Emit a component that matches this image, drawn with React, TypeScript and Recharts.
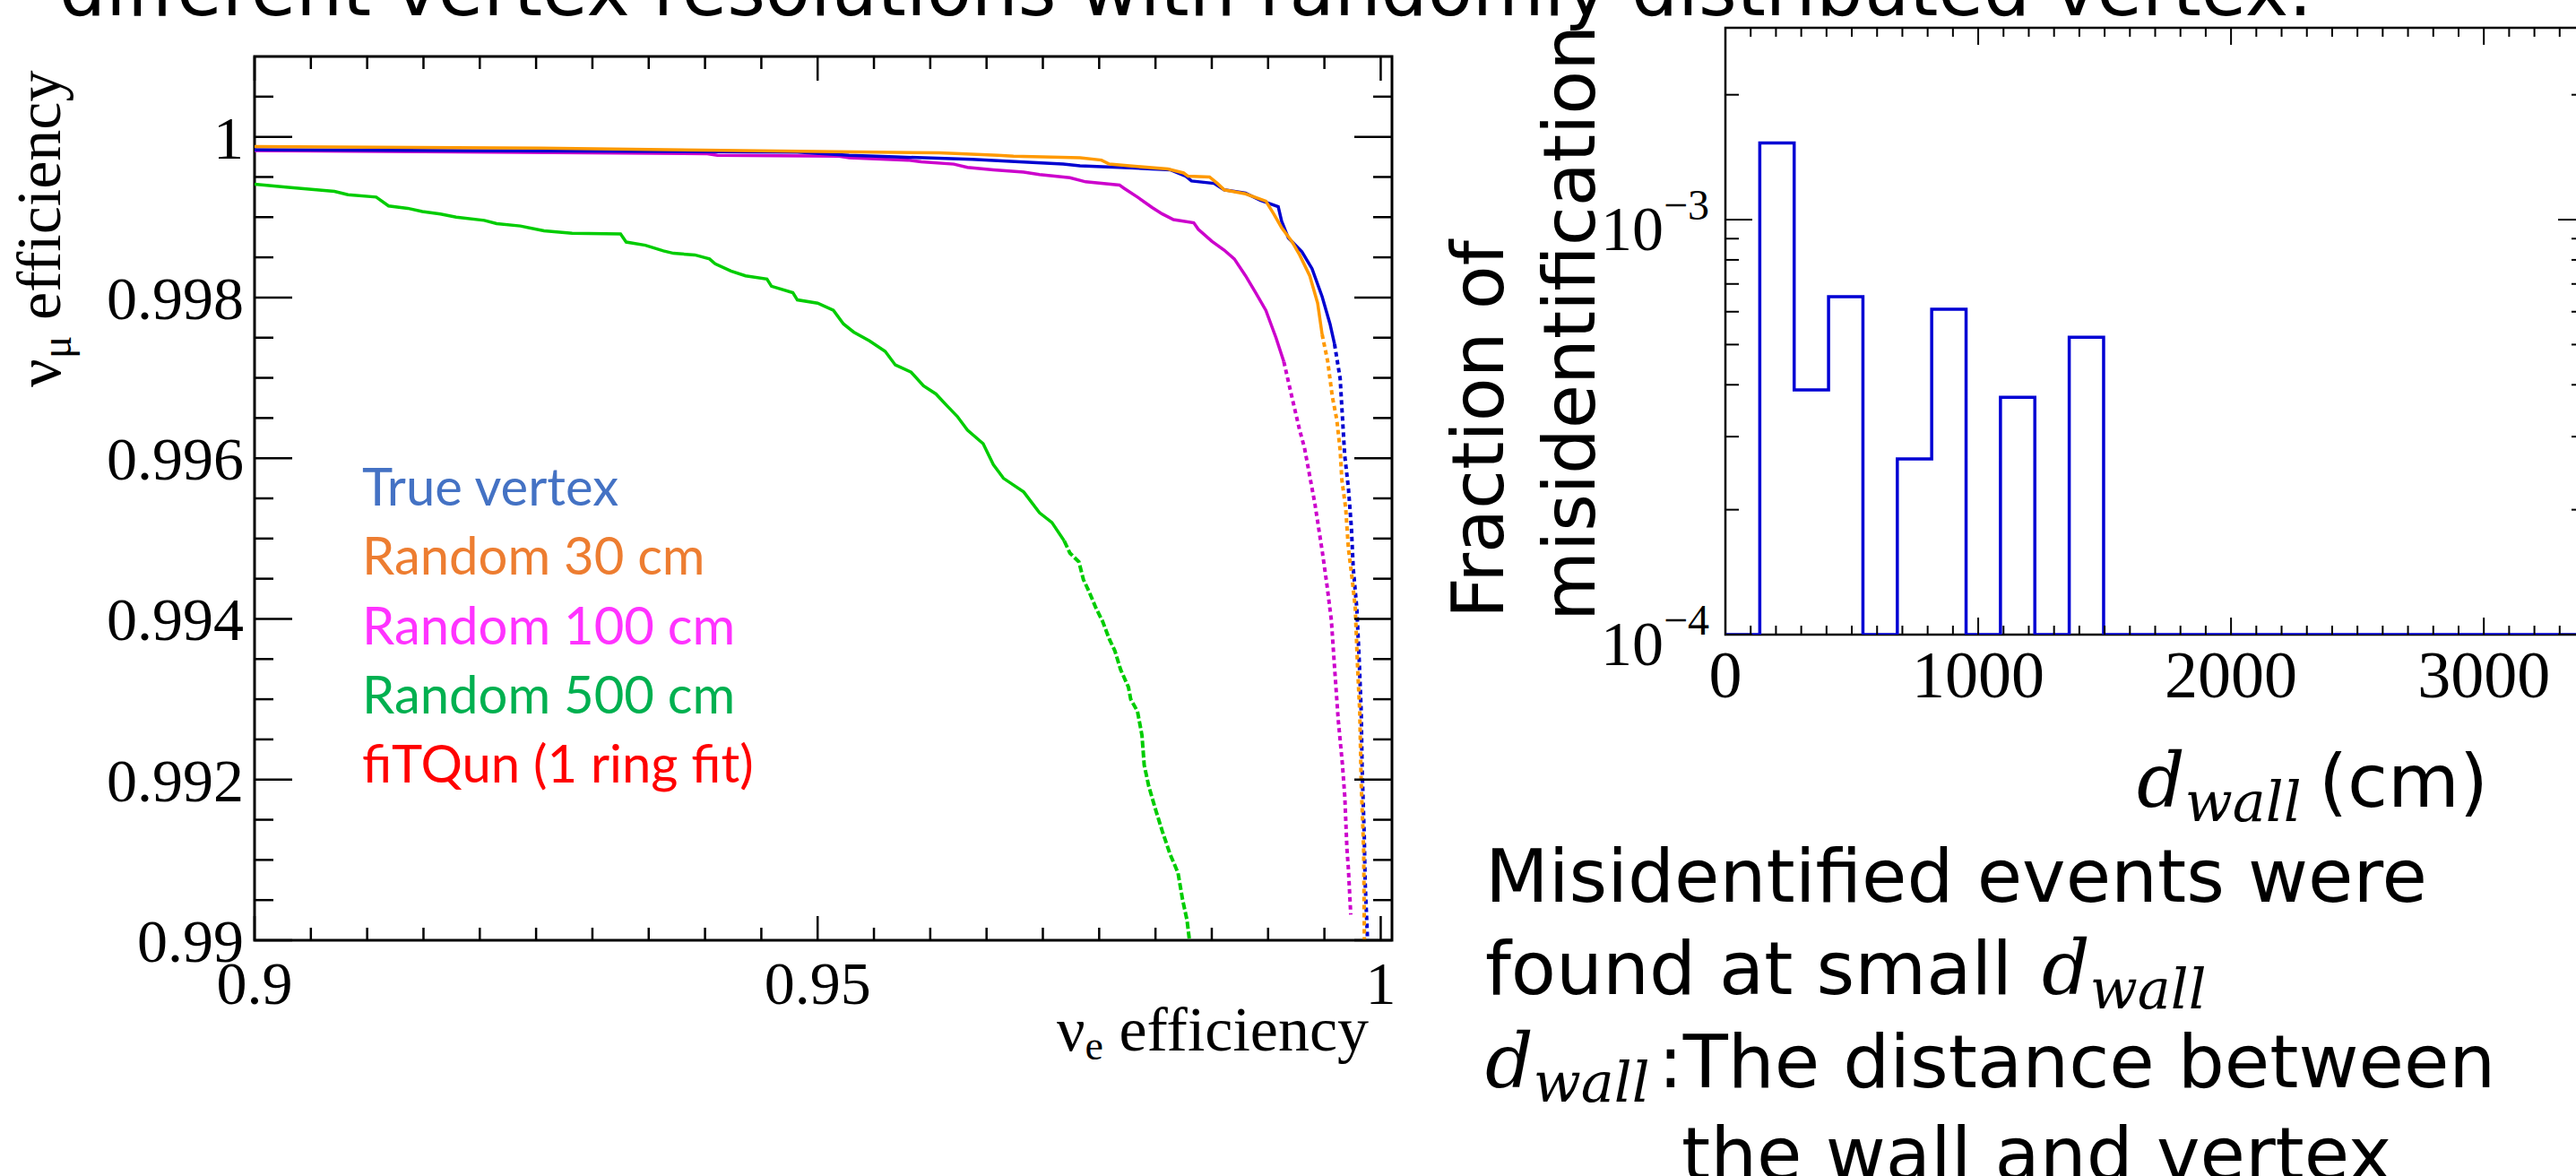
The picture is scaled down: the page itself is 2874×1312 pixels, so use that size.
import React from 'react';
import { LineChart, Line, XAxis, YAxis, ReferenceArea } from 'recharts';

// ---- left plot: nu_mu efficiency vs nu_e efficiency ----
const trueVertexX = [0.9, 0.9482, 0.9528, 0.9569, 0.9637, 0.9679, 0.9718, 0.9733, 0.9768, 0.9813, 0.9827, 0.9832, 0.9852, 0.9861, 0.988, 0.9893, 0.9909, 0.9912, 0.9918, 0.993, 0.9939, 0.9948, 0.9955, 0.9959, 0.9964, 0.9968, 0.99713, 0.9974, 0.99756, 0.99788, 0.99809, 0.99827, 0.99835, 0.99854, 0.99862, 0.9988, 0.99885];
const trueVertexY = [0.99984, 0.99981, 0.99977, 0.99975, 0.99972, 0.99969, 0.99966, 0.99964, 0.99962, 0.99959, 0.99951, 0.99945, 0.99942, 0.99934, 0.9993, 0.99921, 0.99913, 0.99895, 0.99874, 0.99857, 0.99836, 0.99801, 0.99767, 0.99742, 0.99699, 0.99604, 0.99563, 0.99513, 0.99463, 0.99413, 0.99349, 0.99284, 0.99214, 0.99129, 0.99072, 0.99011, 0.9899];

const random30X = [0.9, 0.9254, 0.9484, 0.9608, 0.966, 0.9674, 0.9733, 0.9752, 0.9759, 0.9784, 0.9811, 0.9825, 0.9829, 0.9848, 0.9855, 0.9861, 0.988, 0.9898, 0.9905, 0.9912, 0.9921, 0.9928, 0.9937, 0.9944, 0.9948, 0.9953, 0.9957, 0.9961, 0.9964, 0.99655, 0.99689, 0.99713, 0.99748, 0.99774, 0.99795, 0.99814, 0.99827, 0.99841, 0.99849, 0.99854, 0.99856];
const random30Y = [0.99988, 0.99986, 0.99982, 0.9998, 0.99977, 0.99976, 0.99974, 0.99971, 0.99966, 0.99963, 0.9996, 0.99955, 0.99951, 0.9995, 0.99942, 0.99934, 0.99929, 0.9992, 0.99904, 0.99887, 0.9987, 0.99853, 0.99827, 0.99793, 0.99754, 0.9972, 0.99677, 0.99648, 0.9961, 0.99573, 0.99538, 0.99488, 0.99448, 0.99413, 0.99339, 0.99284, 0.99194, 0.99142, 0.9911, 0.99017, 0.9899];

const random100X = [0.9, 0.9402, 0.9411, 0.9519, 0.9528, 0.958, 0.9592, 0.9621, 0.9633, 0.9656, 0.9683, 0.9697, 0.9724, 0.9738, 0.9768, 0.9772, 0.9784, 0.9797, 0.9806, 0.9816, 0.9834, 0.9838, 0.985, 0.9861, 0.987, 0.988, 0.9889, 0.9898, 0.9907, 0.9914, 0.9921, 0.9928, 0.99323, 0.99416, 0.99482, 0.99522, 0.99562, 0.99588, 0.99623, 0.9966, 0.99681, 0.997, 0.99713, 0.99734];
const random100Y = [0.99983, 0.99979, 0.99977, 0.99976, 0.99974, 0.99971, 0.99969, 0.99966, 0.99962, 0.99959, 0.99956, 0.99953, 0.99949, 0.99944, 0.9994, 0.99936, 0.99925, 0.99912, 0.99904, 0.99897, 0.99893, 0.99885, 0.9987, 0.99859, 0.99848, 0.99827, 0.99806, 0.99784, 0.9975, 0.9972, 0.99677, 0.99635, 0.99613, 0.99543, 0.99483, 0.99443, 0.99398, 0.99344, 0.99274, 0.99219, 0.99179, 0.99114, 0.99089, 0.99032];

const random500X = [0.9, 0.903, 0.9071, 0.9083, 0.9108, 0.9119, 0.9136, 0.9149, 0.9165, 0.9179, 0.9204, 0.9215, 0.9236, 0.9257, 0.9282, 0.9325, 0.933, 0.9347, 0.9363, 0.9372, 0.9391, 0.9404, 0.9409, 0.9423, 0.9436, 0.9455, 0.9459, 0.9478, 0.9482, 0.95, 0.9514, 0.9523, 0.9532, 0.9546, 0.956, 0.9569, 0.9583, 0.9594, 0.9605, 0.9615, 0.9624, 0.9633, 0.9647, 0.9656, 0.9665, 0.9683, 0.9697, 0.9708, 0.9719, 0.9724, 0.9732, 0.9736, 0.9741, 0.9747, 0.9753, 0.9759, 0.9764, 0.9769, 0.9776, 0.9778, 0.9784, 0.9788, 0.979, 0.9794, 0.98, 0.9806, 0.9813, 0.982, 0.9824, 0.9828, 0.983, 0.9831];
const random500Y = [0.99941, 0.99937, 0.99932, 0.99928, 0.99925, 0.99914, 0.99911, 0.99907, 0.99904, 0.999, 0.99896, 0.99892, 0.99889, 0.99883, 0.9988, 0.99879, 0.99869, 0.99865, 0.99858, 0.99855, 0.99853, 0.99848, 0.99842, 0.99833, 0.99827, 0.99823, 0.99814, 0.99806, 0.99797, 0.99793, 0.99784, 0.99767, 0.99757, 0.99746, 0.99733, 0.99716, 0.99707, 0.9969, 0.9968, 0.99665, 0.99652, 0.99635, 0.99618, 0.99592, 0.99575, 0.99558, 0.99532, 0.9952, 0.99497, 0.99482, 0.99471, 0.99449, 0.99434, 0.99414, 0.99397, 0.99375, 0.9936, 0.99337, 0.99315, 0.993, 0.99285, 0.99255, 0.99218, 0.99192, 0.99163, 0.99136, 0.99107, 0.99084, 0.99051, 0.99025, 0.99002, 0.98985];

const legendLabels = ['True vertex', 'Random 30 cm', 'Random 100 cm', 'Random 500 cm', 'fiTQun (1 ring fit)'];
const legendColors = ['#4472c4', '#ed7d31', '#ff33ff', '#00b050', '#ff0000'];

const effXLabels = ['0.9', '0.95', '1'];
const effYLabels = ['0.99', '0.992', '0.994', '0.996', '0.998', '1'];

// ---- right plot: fraction of misidentification vs d_wall ----
const dwallEdges = [0, 136, 272, 408, 544, 680, 816, 952, 1088, 1224, 1360, 1496, 1632, 1768, 1904, 2040, 2176, 2312, 2448, 2584, 2720, 2856, 2992, 3128, 3264, 3400];
const misidFraction = [0, 1.53e-3, 3.89e-4, 6.52e-4, 0, 2.65e-4, 6.08e-4, 0, 3.73e-4, 0, 5.21e-4, 0, 0, 0, 0, 0, 0, 0, 0, 0, 0, 0, 0, 0, 0];
const dwallLabels = ['0', '1000', '2000', '3000'];
const fracTicks = [1e-4, 2e-4, 3e-4, 4e-4, 5e-4, 6e-4, 7e-4, 8e-4, 9e-4, 1e-3, 2e-3];
const fracMajor = [1e-4, 1e-3];
const fracExp = ['\u22124', '\u22123'];

const FRAC_MIN = 1e-4;
const FRAC_MAX = 2.9e-3;

const zip = (xs: number[], ys: number[]) => xs.map((x, i) => ({ x, y: ys[i] }));

const effXTicks = Array.from({ length: 21 }, (_, i) => +(0.9 + i * 0.005).toFixed(3));
const effYTicks = Array.from({ length: 22 }, (_, i) => +(0.99 + i * 0.0005).toFixed(4));
const dwallTicks = Array.from({ length: 34 }, (_, i) => i * 100);

const histData = dwallEdges.map((x, i) => ({
  x,
  frac: i < misidFraction.length && misidFraction[i] > 0 ? misidFraction[i] : FRAC_MIN,
}));

const L_W = 1269;
const L_H = 986;
const R_W = 959;
const R_H = 677;
const serif = 'Liberation Serif, Times New Roman, serif';
const sans = 'DejaVu Sans, Verdana, sans-serif';

function EffXTick(props: any) {
  const { x, y, payload } = props;
  const idx = effXLabels.map(Number).indexOf(payload.value);
  const len = idx >= 0 ? 27 : 14;
  const top = y - L_H;
  return (
    <g>
      <line x1={x} y1={y} x2={x} y2={y - len} stroke="#000" strokeWidth={2.5} />
      <line x1={x} y1={top} x2={x} y2={top + len} stroke="#000" strokeWidth={2.5} />
      {idx >= 0 && (
        <text x={x} y={y + 71} textAnchor="middle" fontFamily={serif} fontSize={68} fill="#000">
          {effXLabels[idx]}
        </text>
      )}
    </g>
  );
}

function EffYTick(props: any) {
  const { x, y, payload } = props;
  const idx = effYLabels.map(Number).indexOf(payload.value);
  const len = idx >= 0 ? 42 : 21;
  const right = x + L_W;
  return (
    <g>
      <line x1={x} y1={y} x2={x + len} y2={y} stroke="#000" strokeWidth={2.5} />
      <line x1={right} y1={y} x2={right - len} y2={y} stroke="#000" strokeWidth={2.5} />
      {idx >= 0 && (
        <text x={x - 12} y={y + 24} textAnchor="end" fontFamily={serif} fontSize={68} fill="#000">
          {effYLabels[idx]}
        </text>
      )}
    </g>
  );
}

function DwallTick(props: any) {
  const { x, y, payload } = props;
  const idx = dwallLabels.map(Number).indexOf(payload.value);
  const len = idx >= 0 ? 19 : 10;
  const top = y - R_H;
  return (
    <g>
      <line x1={x} y1={y} x2={x} y2={y - len} stroke="#000" strokeWidth={2} />
      <line x1={x} y1={top} x2={x} y2={top + len} stroke="#000" strokeWidth={2} />
      {idx >= 0 && (
        <text x={x} y={y + 70} textAnchor="middle" fontFamily={serif} fontSize={74} fill="#000">
          {dwallLabels[idx]}
        </text>
      )}
    </g>
  );
}

function FracTick(props: any) {
  const { x, y, payload } = props;
  const idx = fracMajor.indexOf(payload.value);
  const len = idx >= 0 ? 30 : 15;
  const right = x + R_W;
  return (
    <g>
      <line x1={x} y1={y} x2={x + len} y2={y} stroke="#000" strokeWidth={2} />
      <line x1={right} y1={y} x2={right - len} y2={y} stroke="#000" strokeWidth={2} />
      {idx >= 0 && (
        <text x={x - 18} y={y + 34} textAnchor="end" fontFamily={serif} fontSize={70} fill="#000">
          10
          <tspan dy={-34} fontSize={48}>
            {fracExp[idx]}
          </tspan>
        </text>
      )}
    </g>
  );
}

// the steep tail of each curve is only a sparse trail of points in the original
function splitCurve(xs: number[], ys: number[], yDotted: number) {
  const pts = zip(xs, ys);
  const k = pts.findIndex((p) => p.y < yDotted);
  return { solid: pts.slice(0, k + 1), dotted: pts.slice(k) };
}

export default function App() {
  const curves = [
    { name: 'Random 500 cm', ...splitCurve(random500X, random500Y, 0.9952), color: '#00cc00', dash: '8 3' },
    { name: 'Random 100 cm', ...splitCurve(random100X, random100Y, 0.9974), color: '#cc00cc', dash: '5 4' },
    { name: 'True vertex', ...splitCurve(trueVertexX, trueVertexY, 0.9976), color: '#0000d0', dash: '5 4' },
    { name: 'Random 30 cm', ...splitCurve(random30X, random30Y, 0.9979), color: '#ff9900', dash: '5 4' },
  ];

  return (
    <div style={{ position: 'fixed', left: 0, top: 0, width: 2874, height: 1312, overflow: 'hidden', background: '#fff' }}>
      <div style={{ position: 'absolute', left: 0, top: 0 }}>
        <LineChart width={1600} height={1250} margin={{ top: 63, right: 47, bottom: 200, left: 283 }}>
          <XAxis
            xAxisId="x"
            dataKey="x"
            type="number"
            domain={[0.9, 1.001]}
            allowDataOverflow
            ticks={effXTicks}
            interval={0}
            height={1}
            tickSize={0}
            tickMargin={0}
            axisLine={false}
            tickLine={false}
            tick={EffXTick}
          />
          <YAxis
            yAxisId="y"
            type="number"
            domain={[0.99, 1.001]}
            allowDataOverflow
            ticks={effYTicks}
            interval={0}
            width={1}
            tickSize={0}
            tickMargin={0}
            axisLine={false}
            tickLine={false}
            tick={EffYTick}
          />
          <ReferenceArea
            xAxisId="x"
            yAxisId="y"
            x1={0.9}
            x2={1.001}
            y1={0.99}
            y2={1.001}
            fill="none"
            stroke="#000"
            strokeWidth={3}
            ifOverflow="visible"
          />
          {curves.map((c) => (
            <Line
              key={c.name + '-dotted'}
              xAxisId="x"
              yAxisId="y"
              data={c.dotted}
              dataKey="y"
              name={c.name}
              type="linear"
              stroke={c.color}
              strokeWidth={4}
              strokeDasharray={c.dash}
              dot={false}
              legendType="none"
              isAnimationActive={false}
            />
          ))}
          {curves.map((c) => (
            <Line
              key={c.name}
              xAxisId="x"
              yAxisId="y"
              data={c.solid}
              dataKey="y"
              name={c.name}
              type="linear"
              stroke={c.color}
              strokeWidth={3.5}
              dot={false}
              isAnimationActive={false}
            />
          ))}
        </LineChart>
      </div>

      <div style={{ position: 'absolute', left: 1600, top: 0 }}>
        <LineChart width={1300} height={820} data={histData} margin={{ top: 31, right: 16, bottom: 111, left: 324 }}>
          <XAxis
            xAxisId="d"
            dataKey="x"
            type="number"
            domain={[0, 3400]}
            allowDataOverflow
            ticks={dwallTicks}
            interval={0}
            height={1}
            tickSize={0}
            tickMargin={0}
            axisLine={false}
            tickLine={false}
            tick={DwallTick}
          />
          <YAxis
            yAxisId="f"
            type="number"
            scale="log"
            domain={[FRAC_MIN, FRAC_MAX]}
            allowDataOverflow
            ticks={fracTicks}
            interval={0}
            width={1}
            tickSize={0}
            tickMargin={0}
            axisLine={false}
            tickLine={false}
            tick={FracTick}
          />
          <ReferenceArea
            xAxisId="d"
            yAxisId="f"
            x1={0}
            x2={3400}
            y1={FRAC_MIN}
            y2={FRAC_MAX}
            fill="none"
            stroke="#000"
            strokeWidth={2.5}
            ifOverflow="visible"
          />
          <Line
            xAxisId="d"
            yAxisId="f"
            dataKey="frac"
            type="stepAfter"
            stroke="#0000d4"
            strokeWidth={3.5}
            dot={false}
            isAnimationActive={false}
          />
        </LineChart>
      </div>

      <svg width={2874} height={1312} style={{ position: 'absolute', left: 0, top: 0, pointerEvents: 'none' }}>
        <text x={66} y={17} fontFamily={sans} fontSize={82} fill="#000">
          different vertex resolutions with randomly distributed vertex.
        </text>

        {legendLabels.map((t, i) => (
          <text key={t} x={404} y={564 + i * 77.3} fontFamily="Lato, Carlito, sans-serif" fontSize={58} fill={legendColors[i]}>
            {t}
          </text>
        ))}

        <text transform="translate(67 432) rotate(-90)" fontFamily={serif} fontSize={70} fill="#000">
          ν<tspan fontSize={48} dy={12}>μ</tspan>
          <tspan dy={-12}> efficiency</tspan>
        </text>
        <text x={1527} y={1172} textAnchor="end" fontFamily={serif} fontSize={70} fill="#000">
          ν<tspan fontSize={46} dy={10}>e</tspan>
          <tspan dy={-10}> efficiency</tspan>
        </text>

        <text transform="translate(1677 690) rotate(-90)" fontFamily={sans} fontSize={80} fill="#000">
          Fraction of
        </text>
        <text transform="translate(1779 693) rotate(-90)" fontFamily={sans} fontSize={80} fill="#000">
          misidentification
        </text>

        <text x={2384} y={900} fontFamily="DejaVu Serif, serif" fontStyle="italic" fontSize={84} fill="#000">
          d<tspan fontSize={62} dy={16}>wall</tspan>
        </text>
        <text x={2587} y={900} fontFamily={sans} fontSize={82} fill="#000">
          (cm)
        </text>

        <text x={1657} y={1006} fontFamily={sans} fontSize={82} fill="#000">
          Misidentified events were
        </text>
        <text x={1657} y={1109} fontFamily={sans} fontSize={82} fill="#000">
          found at small
        </text>
        <text x={2278} y={1109} fontFamily="DejaVu Serif, serif" fontStyle="italic" fontSize={84} fill="#000">
          d<tspan fontSize={62} dy={16}>wall</tspan>
        </text>
        <text x={1657} y={1213} fontFamily="DejaVu Serif, serif" fontStyle="italic" fontSize={84} fill="#000">
          d<tspan fontSize={62} dy={16}>wall</tspan>
        </text>
        <text x={1850} y={1213} fontFamily={sans} fontSize={82} fill="#000">
          :The distance between
        </text>
        <text x={1876} y={1316} fontFamily={sans} fontSize={82} fill="#000">
          the wall and vertex
        </text>
      </svg>
    </div>
  );
}
